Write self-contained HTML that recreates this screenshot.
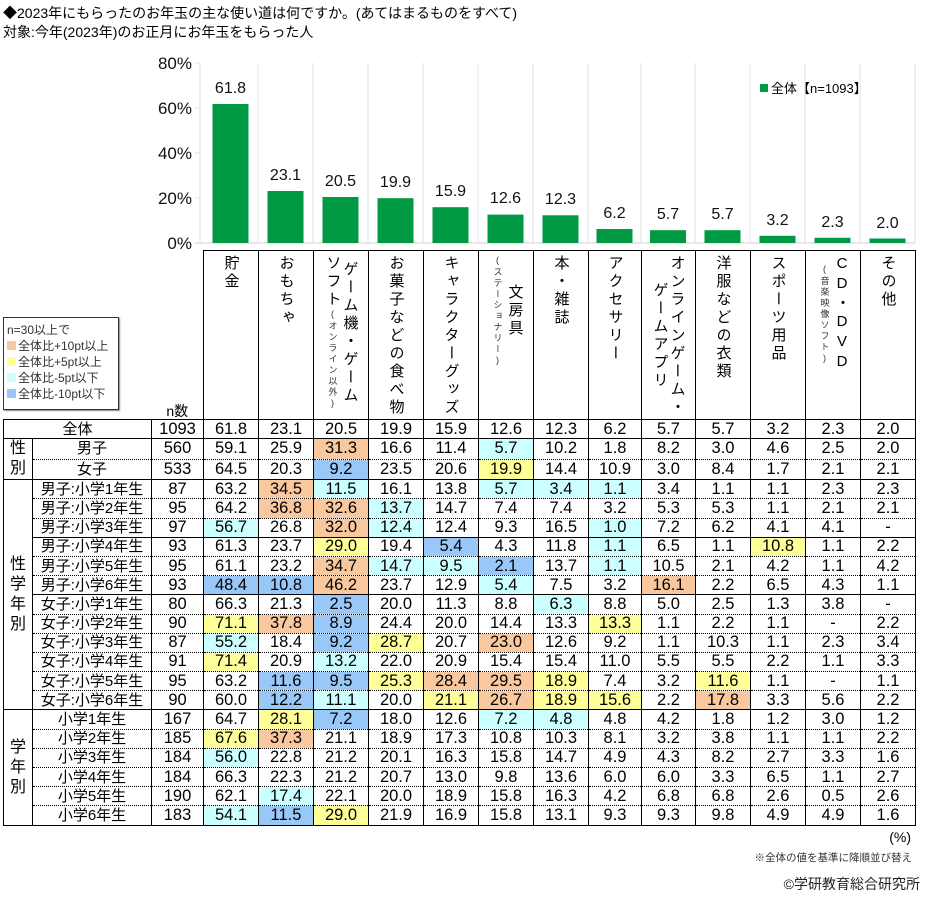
<!DOCTYPE html>
<html><head><meta charset="utf-8">
<style>
body{margin:0;width:928px;height:898px;background:#fff;position:relative;overflow:hidden;font-family:"Liberation Sans","Noto Sans CJK JP",sans-serif;color:#000}
.abs{position:absolute}
table{position:absolute;left:3px;top:250px;border-collapse:collapse;table-layout:fixed;font-size:16.5px}
td{padding:0;text-align:center;vertical-align:middle;border-left:1px solid #000;border-right:1px solid #000;border-top:1px dotted #000;border-bottom:1px dotted #000;height:18.2px;line-height:17px;white-space:nowrap;overflow:hidden}
td.lab{font-size:15px}
tr.s td{border-top:1.5px solid #000}
tr.hd td{height:164px;border:1px solid #000;border-bottom:1.5px solid #000;vertical-align:top;padding-top:4px}
tr.hd td.nb{border:none;vertical-align:bottom;padding:0}
.v{writing-mode:vertical-rl;text-orientation:upright;font-size:15px;line-height:17px;letter-spacing:3px;margin:0 auto;font-family:"Liberation Sans","Noto Sans CJK JP",sans-serif}
.v small{font-size:9px;letter-spacing:2px;color:#333}
td.g{font-size:16px;line-height:20px;border-top:1.5px solid #000;border-bottom:1.5px solid #000}
.O{background:#fac89e}.Y{background:#ffff99}.C{background:#ccffff}.B{background:#99c8f8}
</style></head><body>
<div class="abs" style="left:3px;top:4px;font-size:14px;line-height:19px">◆2023年にもらったのお年玉の主な使い道は何ですか。(あてはまるものをすべて)<br>対象:今年(2023年)のお正月にお年玉をもらった人</div>
<svg class="abs" style="left:0;top:0" width="928" height="250">
<g stroke="#e0e0e0" stroke-width="1">
<line x1="200" y1="63" x2="200" y2="243"/>
<line x1="258" y1="63" x2="258" y2="243"/><line x1="313" y1="63" x2="313" y2="243"/><line x1="368" y1="63" x2="368" y2="243"/><line x1="423" y1="63" x2="423" y2="243"/><line x1="478" y1="63" x2="478" y2="243"/><line x1="533" y1="63" x2="533" y2="243"/><line x1="588" y1="63" x2="588" y2="243"/><line x1="641" y1="63" x2="641" y2="243"/><line x1="695" y1="63" x2="695" y2="243"/><line x1="750" y1="63" x2="750" y2="243"/><line x1="805" y1="63" x2="805" y2="243"/><line x1="860" y1="63" x2="860" y2="243"/><line x1="915" y1="63" x2="915" y2="243"/>
<line x1="195" y1="63" x2="200" y2="63"/><line x1="195" y1="108" x2="200" y2="108"/><line x1="195" y1="153" x2="200" y2="153"/><line x1="195" y1="198" x2="200" y2="198"/>
<line x1="195" y1="243" x2="915" y2="243" stroke="#d0d0d0"/>
</g>
<g font-family="Liberation Sans, sans-serif" font-size="17" text-anchor="end" fill="#111">
<text x="192" y="69">80%</text><text x="192" y="114">60%</text><text x="192" y="159">40%</text><text x="192" y="204">20%</text><text x="192" y="249">0%</text>
</g>
<g fill="#009944">
<rect x="212.5" y="104" width="36" height="139"/>
<rect x="267.5" y="191" width="36" height="52"/>
<rect x="322.5" y="197" width="36" height="46"/>
<rect x="377.5" y="198.2" width="36" height="44.8"/>
<rect x="432.5" y="207.2" width="36" height="35.8"/>
<rect x="487.5" y="214.6" width="36" height="28.4"/>
<rect x="542.5" y="215.3" width="36" height="27.7"/>
<rect x="596.5" y="229" width="36" height="14"/>
<rect x="650" y="230.2" width="36" height="12.8"/>
<rect x="704.5" y="230.2" width="36" height="12.8"/>
<rect x="759.5" y="235.8" width="36" height="7.2"/>
<rect x="814.5" y="237.8" width="36" height="5.2"/>
<rect x="869.5" y="238.5" width="36" height="4.5"/>
</g>
<g font-family="Liberation Sans, sans-serif" font-size="16" text-anchor="middle" fill="#111">
<text x="230.5" y="93">61.8</text><text x="285.5" y="180">23.1</text><text x="340.5" y="186">20.5</text><text x="395.5" y="187">19.9</text><text x="450.5" y="196">15.9</text><text x="505.5" y="203">12.6</text><text x="560.5" y="204">12.3</text><text x="614.5" y="218">6.2</text><text x="668" y="219">5.7</text><text x="722.5" y="219">5.7</text><text x="777.5" y="225">3.2</text><text x="832.5" y="227">2.3</text><text x="887.5" y="228">2.0</text>
</g>
<rect x="760" y="84" width="8" height="8" fill="#009944"/>
<text x="771" y="93" font-family="Liberation Sans, Noto Sans CJK JP, sans-serif" font-size="13">全体【n=1093】</text>
</svg>
<div class="abs" style="left:3px;top:317px;width:116px;height:93px;border:1px solid #333;box-shadow:1px 1px 1px #888;font-size:12px;line-height:16px;color:#333;padding:4px 0 0 3px;box-sizing:border-box">
n=30以上で<br><span style="display:inline-block;width:9px;height:9px;background:#fac89e;margin-right:2px"></span>全体比+10pt以上<br><span style="display:inline-block;width:9px;height:9px;background:#ffff99;margin-right:2px"></span>全体比+5pt以上<br><span style="display:inline-block;width:9px;height:9px;background:#ccffff;margin-right:2px"></span>全体比-5pt以下<br><span style="display:inline-block;width:9px;height:9px;background:#99c8f8;margin-right:2px"></span>全体比-10pt以下</div>
<table>
<colgroup><col style="width:29px"><col style="width:119px"><col style="width:52px"><col style="width:55px"><col style="width:55px"><col style="width:55px"><col style="width:55px"><col style="width:55px"><col style="width:55px"><col style="width:55px"><col style="width:53px"><col style="width:54px"><col style="width:55px"><col style="width:55px"><col style="width:55px"><col style="width:55px"></colgroup>
<tr class="hd"><td class="nb" colspan="2"></td><td class="nb" style="text-align:center;font-size:14px;line-height:16px">n数</td>
<td><div class="v">貯金</div></td>
<td><div class="v">おもちゃ</div></td>
<td><div class="v">ゲーム機・ゲーム<br>ソフト<small>(オンライン以外)</small></div></td>
<td><div class="v">お菓子などの食べ物</div></td>
<td><div class="v">キャラクターグッズ</div></td>
<td><div class="v">文房具<br><small>(ステーショナリー)</small></div></td>
<td><div class="v">本・雑誌</div></td>
<td><div class="v">アクセサリー</div></td>
<td><div class="v">オンラインゲーム・<br>ゲームアプリ</div></td>
<td><div class="v">洋服などの衣類</div></td>
<td><div class="v">スポーツ用品</div></td>
<td><div class="v">CD・DVD<br><small>(音楽映像ソフト)</small></div></td>
<td><div class="v">その他</div></td></tr>
<tr class="s"><td class="lab" colspan="2">全体</td><td>1093</td><td>61.8</td><td>23.1</td><td>20.5</td><td>19.9</td><td>15.9</td><td>12.6</td><td>12.3</td><td>6.2</td><td>5.7</td><td>5.7</td><td>3.2</td><td>2.3</td><td>2.0</td></tr>
<tr class="s"><td class="g" rowspan="2">性<br>別</td><td class="lab">男子</td><td>560</td><td>59.1</td><td>25.9</td><td class="O">31.3</td><td>16.6</td><td>11.4</td><td class="C">5.7</td><td>10.2</td><td>1.8</td><td>8.2</td><td>3.0</td><td>4.6</td><td>2.5</td><td>2.0</td></tr>
<tr><td class="lab">女子</td><td>533</td><td>64.5</td><td>20.3</td><td class="B">9.2</td><td>23.5</td><td>20.6</td><td class="Y">19.9</td><td>14.4</td><td>10.9</td><td>3.0</td><td>8.4</td><td>1.7</td><td>2.1</td><td>2.1</td></tr>
<tr class="s"><td class="g" rowspan="12">性<br>学<br>年<br>別</td><td class="lab">男子:小学1年生</td><td>87</td><td>63.2</td><td class="O">34.5</td><td class="C">11.5</td><td>16.1</td><td>13.8</td><td class="C">5.7</td><td class="C">3.4</td><td class="C">1.1</td><td>3.4</td><td>1.1</td><td>1.1</td><td>2.3</td><td>2.3</td></tr>
<tr><td class="lab">男子:小学2年生</td><td>95</td><td>64.2</td><td class="O">36.8</td><td class="O">32.6</td><td class="C">13.7</td><td>14.7</td><td>7.4</td><td>7.4</td><td>3.2</td><td>5.3</td><td>5.3</td><td>1.1</td><td>2.1</td><td>2.1</td></tr>
<tr><td class="lab">男子:小学3年生</td><td>97</td><td class="C">56.7</td><td>26.8</td><td class="O">32.0</td><td class="C">12.4</td><td>12.4</td><td>9.3</td><td>16.5</td><td class="C">1.0</td><td>7.2</td><td>6.2</td><td>4.1</td><td>4.1</td><td>-</td></tr>
<tr class="s"><td class="lab">男子:小学4年生</td><td>93</td><td>61.3</td><td>23.7</td><td class="Y">29.0</td><td>19.4</td><td class="B">5.4</td><td>4.3</td><td>11.8</td><td class="C">1.1</td><td>6.5</td><td>1.1</td><td class="Y">10.8</td><td>1.1</td><td>2.2</td></tr>
<tr><td class="lab">男子:小学5年生</td><td>95</td><td>61.1</td><td>23.2</td><td class="O">34.7</td><td class="C">14.7</td><td class="C">9.5</td><td class="B">2.1</td><td>13.7</td><td class="C">1.1</td><td>10.5</td><td>2.1</td><td>4.2</td><td>1.1</td><td>4.2</td></tr>
<tr><td class="lab">男子:小学6年生</td><td>93</td><td class="B">48.4</td><td class="B">10.8</td><td class="O">46.2</td><td>23.7</td><td>12.9</td><td class="C">5.4</td><td>7.5</td><td>3.2</td><td class="O">16.1</td><td>2.2</td><td>6.5</td><td>4.3</td><td>1.1</td></tr>
<tr class="s"><td class="lab">女子:小学1年生</td><td>80</td><td>66.3</td><td>21.3</td><td class="B">2.5</td><td>20.0</td><td>11.3</td><td>8.8</td><td class="C">6.3</td><td>8.8</td><td>5.0</td><td>2.5</td><td>1.3</td><td>3.8</td><td>-</td></tr>
<tr><td class="lab">女子:小学2年生</td><td>90</td><td class="Y">71.1</td><td class="O">37.8</td><td class="B">8.9</td><td>24.4</td><td>20.0</td><td>14.4</td><td>13.3</td><td class="Y">13.3</td><td>1.1</td><td>2.2</td><td>1.1</td><td>-</td><td>2.2</td></tr>
<tr><td class="lab">女子:小学3年生</td><td>87</td><td class="C">55.2</td><td>18.4</td><td class="B">9.2</td><td class="Y">28.7</td><td>20.7</td><td class="O">23.0</td><td>12.6</td><td>9.2</td><td>1.1</td><td>10.3</td><td>1.1</td><td>2.3</td><td>3.4</td></tr>
<tr><td class="lab">女子:小学4年生</td><td>91</td><td class="Y">71.4</td><td>20.9</td><td class="C">13.2</td><td>22.0</td><td>20.9</td><td>15.4</td><td>15.4</td><td>11.0</td><td>5.5</td><td>5.5</td><td>2.2</td><td>1.1</td><td>3.3</td></tr>
<tr><td class="lab">女子:小学5年生</td><td>95</td><td>63.2</td><td class="B">11.6</td><td class="B">9.5</td><td class="Y">25.3</td><td class="O">28.4</td><td class="O">29.5</td><td class="Y">18.9</td><td>7.4</td><td>3.2</td><td class="Y">11.6</td><td>1.1</td><td>-</td><td>1.1</td></tr>
<tr><td class="lab">女子:小学6年生</td><td>90</td><td>60.0</td><td class="B">12.2</td><td class="C">11.1</td><td>20.0</td><td class="Y">21.1</td><td class="O">26.7</td><td class="Y">18.9</td><td class="Y">15.6</td><td>2.2</td><td class="O">17.8</td><td>3.3</td><td>5.6</td><td>2.2</td></tr>
<tr class="s"><td class="g" rowspan="6" style="border-bottom:1.5px solid #000">学<br>年<br>別</td><td class="lab">小学1年生</td><td>167</td><td>64.7</td><td class="Y">28.1</td><td class="B">7.2</td><td>18.0</td><td>12.6</td><td class="C">7.2</td><td class="C">4.8</td><td>4.8</td><td>4.2</td><td>1.8</td><td>1.2</td><td>3.0</td><td>1.2</td></tr>
<tr><td class="lab">小学2年生</td><td>185</td><td class="Y">67.6</td><td class="O">37.3</td><td>21.1</td><td>18.9</td><td>17.3</td><td>10.8</td><td>10.3</td><td>8.1</td><td>3.2</td><td>3.8</td><td>1.1</td><td>1.1</td><td>2.2</td></tr>
<tr><td class="lab">小学3年生</td><td>184</td><td class="C">56.0</td><td>22.8</td><td>21.2</td><td>20.1</td><td>16.3</td><td>15.8</td><td>14.7</td><td>4.9</td><td>4.3</td><td>8.2</td><td>2.7</td><td>3.3</td><td>1.6</td></tr>
<tr><td class="lab">小学4年生</td><td>184</td><td>66.3</td><td>22.3</td><td>21.2</td><td>20.7</td><td>13.0</td><td>9.8</td><td>13.6</td><td>6.0</td><td>6.0</td><td>3.3</td><td>6.5</td><td>1.1</td><td>2.7</td></tr>
<tr><td class="lab">小学5年生</td><td>190</td><td>62.1</td><td class="C">17.4</td><td>22.1</td><td>20.0</td><td>18.9</td><td>15.8</td><td>16.3</td><td>4.2</td><td>6.8</td><td>6.8</td><td>2.6</td><td>0.5</td><td>2.6</td></tr>
<tr style="border-bottom:1.5px solid #000"><td class="lab" style="border-bottom:1.5px solid #000">小学6年生</td><td style="border-bottom:1.5px solid #000">183</td><td class="C" style="border-bottom:1.5px solid #000">54.1</td><td class="B" style="border-bottom:1.5px solid #000">11.5</td><td class="Y" style="border-bottom:1.5px solid #000">29.0</td><td style="border-bottom:1.5px solid #000">21.9</td><td style="border-bottom:1.5px solid #000">16.9</td><td style="border-bottom:1.5px solid #000">15.8</td><td style="border-bottom:1.5px solid #000">13.1</td><td style="border-bottom:1.5px solid #000">9.3</td><td style="border-bottom:1.5px solid #000">9.3</td><td style="border-bottom:1.5px solid #000">9.8</td><td style="border-bottom:1.5px solid #000">4.9</td><td style="border-bottom:1.5px solid #000">4.9</td><td style="border-bottom:1.5px solid #000">1.6</td></tr>
</table>
<div class="abs" style="right:17px;top:829px;font-size:14px">(%)</div>
<div class="abs" style="right:16px;top:850px;font-size:10.5px;color:#333">※全体の値を基準に降順並び替え</div>
<div class="abs" style="right:8px;top:874px;font-size:14px;color:#222">©学研教育総合研究所</div>
</body></html>
